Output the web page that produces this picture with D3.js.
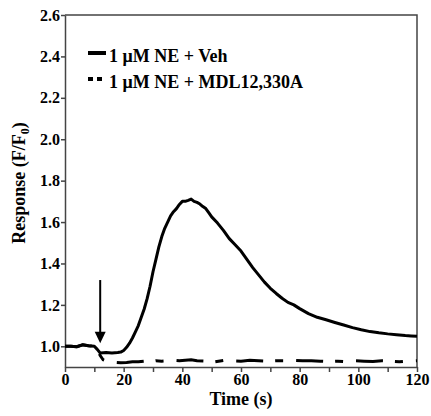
<!DOCTYPE html>
<html>
<head>
<meta charset="utf-8">
<script src="https://cdn.jsdelivr.net/npm/d3@7"></script>
<style>
  body { margin: 0; background: #fff; }
  svg { display: block; }
  svg text { font-family: "Liberation Serif", "Times New Roman", serif !important; font-weight: bold; }
</style>
</head>
<body>
<div id="chart"></div>
<script>
const width = 431, height = 416
const margin = {top: 15, right: 14, bottom: 49, left: 65}

// NE + vehicle trace
const veh_t = [0, 2, 4, 6, 8, 10, 11, 12, 14, 16, 18, 19, 20, 21, 22, 23, 24, 25, 26, 27, 28, 29, 30, 31, 32, 33, 34, 35, 36, 37, 38, 39, 40, 41, 42, 43, 44, 45, 46, 47, 48, 49, 50, 52, 54, 56, 58, 60, 62, 64, 66, 68, 70, 72, 74, 76, 78, 80, 83, 86, 89, 92, 95, 98, 101, 104, 107, 110, 113, 116, 118, 120]
const veh_v = [1.0, 1.0, 0.998, 1.007, 1.003, 1.0, 0.985, 0.968, 0.970, 0.968, 0.970, 0.972, 0.98, 0.995, 1.015, 1.04, 1.07, 1.10, 1.14, 1.18, 1.23, 1.29, 1.36, 1.42, 1.48, 1.53, 1.57, 1.60, 1.63, 1.65, 1.665, 1.685, 1.70, 1.70, 1.705, 1.711, 1.70, 1.695, 1.687, 1.675, 1.665, 1.645, 1.625, 1.595, 1.56, 1.52, 1.49, 1.46, 1.42, 1.38, 1.345, 1.31, 1.28, 1.255, 1.232, 1.212, 1.20, 1.182, 1.158, 1.14, 1.128, 1.115, 1.103, 1.09, 1.08, 1.071, 1.065, 1.06, 1.056, 1.052, 1.05, 1.048]

// NE + MDL12,330A trace
const mdl_t = [0, 2, 4, 6, 8, 10, 11, 12, 13, 15, 17, 19, 21, 23, 25, 27, 29, 31, 33, 35, 37, 39, 41, 43, 45, 48, 51, 54, 57, 60, 63, 66, 69, 72, 75, 78, 81, 84, 87, 90, 93, 96, 99, 102, 105, 108, 111, 114, 117, 120]
const mdl_v = [1.0, 1.0, 0.998, 1.007, 1.003, 1.0, 0.985, 0.955, 0.935, 0.925, 0.922, 0.92, 0.922, 0.925, 0.925, 0.928, 0.925, 0.93, 0.928, 0.93, 0.932, 0.93, 0.933, 0.935, 0.93, 0.928, 0.925, 0.932, 0.93, 0.928, 0.932, 0.93, 0.928, 0.93, 0.93, 0.932, 0.93, 0.93, 0.928, 0.926, 0.928, 0.925, 0.93, 0.928, 0.926, 0.93, 0.928, 0.925, 0.928, 0.93]

const x_ticks = [0, 10, 20, 30, 40, 50, 60, 70, 80, 90, 100, 110, 120]
const x_labels = [0, 20, 40, 60, 80, 100, 120]
const y_ticks = [1.0, 1.2, 1.4, 1.6, 1.8, 2.0, 2.2, 2.4, 2.6]
const legend_names = ["1 \u03bcM NE + Veh", "1 \u03bcM NE + MDL12,330A"]
const arrow_t = 12

const veh = veh_t.map((t, i) => ({t: t, v: veh_v[i]}))
const mdl = mdl_t.map((t, i) => ({t: t, v: mdl_v[i]}))

let svg = d3.select("#chart").append("svg")
    .attr("width", width)
    .attr("height", height)

let x = d3.scaleLinear().domain([0, 120]).range([margin.left, width - margin.right])
let y = d3.scaleLinear().domain([0.9, 2.6]).range([height - margin.bottom, margin.top])

const axis_color = "#444"

// frame (top + right)
svg.append("path")
    .attr("d", "M" + x(0) + "," + y(2.6) + "H" + x(120) + "V" + y(0.9))
    .attr("fill", "none")
    .attr("stroke", axis_color)
    .attr("stroke-width", 1.5)

let xAxis = svg.append("g")
    .attr("transform", "translate(0," + y(0.9) + ")")
    .call(d3.axisBottom(x).tickValues(x_ticks).tickSize(5).tickSizeOuter(0)
        .tickFormat(d => x_labels.includes(d) ? d : ""))
xAxis.selectAll("text").attr("font-size", 16).attr("fill", "#000").attr("dy", "0.64em")

let yAxis = svg.append("g")
    .attr("transform", "translate(" + x(0) + ",0)")
    .call(d3.axisLeft(y).tickValues(y_ticks).tickSize(4).tickSizeOuter(0).tickFormat(d3.format(".1f")))
yAxis.selectAll("text").attr("font-size", 16).attr("fill", "#000").attr("x", -5)

svg.selectAll(".domain, .tick line").attr("stroke", axis_color).attr("stroke-width", 1.5)

let line = d3.line().x(d => x(d.t)).y(d => y(d.v))

svg.append("path")
    .datum(mdl)
    .attr("d", line)
    .attr("fill", "none")
    .attr("stroke", "#000")
    .attr("stroke-width", 3)
    .attr("stroke-dasharray", "27,12,8,13")

svg.append("path")
    .datum(veh)
    .attr("d", line)
    .attr("fill", "none")
    .attr("stroke", "#000")
    .attr("stroke-width", 3)
    .attr("stroke-linejoin", "round")

// arrow marking NE application
let ax = x(arrow_t)
svg.append("line")
    .attr("x1", ax).attr("x2", ax)
    .attr("y1", y(1.32)).attr("y2", y(1.06))
    .attr("stroke", "#000").attr("stroke-width", 2)
svg.append("path")
    .attr("d", "M" + (ax - 5.5) + "," + y(1.07) + "L" + (ax + 5.5) + "," + y(1.07) + "L" + ax + "," + y(1.015) + "Z")
    .attr("fill", "#000")

// legend
let legend = svg.append("g")
legend_names.forEach((name, i) => {
    let ly = 53 + i * 26
    legend.append("line")
        .attr("x1", 88).attr("x2", 106)
        .attr("y1", ly).attr("y2", ly)
        .attr("stroke", "#000").attr("stroke-width", 4)
        .attr("stroke-dasharray", i === 0 ? null : "5,4")
    legend.append("text")
        .attr("x", 109).attr("y", ly + 8.5)
        .attr("font-size", 18)
        .text(name)
})

svg.append("text")
    .attr("x", x(60)).attr("y", 405)
    .attr("text-anchor", "middle")
    .attr("font-size", 18)
    .text("Time (s)")

let ylab = svg.append("text")
    .attr("transform", "translate(25," + 183 + ") rotate(-90)")
    .attr("text-anchor", "middle")
    .attr("font-size", 18)
ylab.append("tspan").text("Response (F/F")
ylab.append("tspan").attr("font-size", 12).attr("dy", 4).text("0")
ylab.append("tspan").attr("dy", -4).text(")")
</script>
</body>
</html>
